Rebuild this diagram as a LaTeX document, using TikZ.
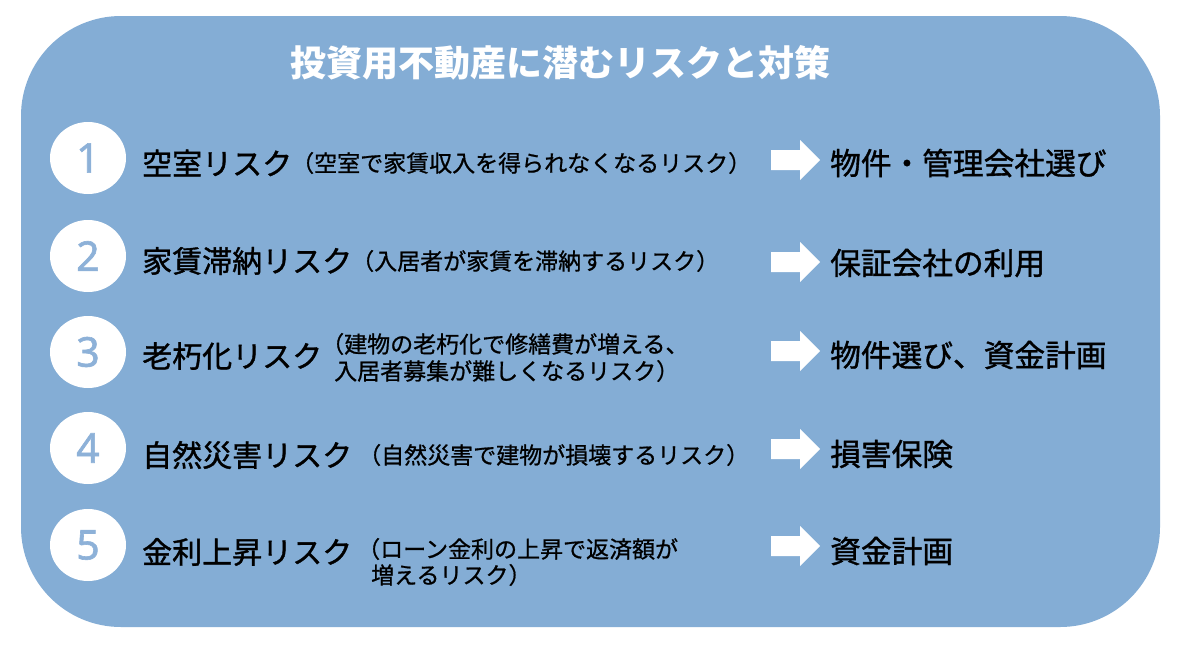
\documentclass[tikz,border=0pt]{standalone}
\usepackage{fontspec}
\usetikzlibrary{shapes.geometric}
\setmainfont{Noto Sans CJK JP}
\newfontfamily\numfont[FakeBold=1.5]{Noto Sans}
\newfontfamily\cjkmed[FakeBold=1.2]{Noto Sans CJK JP}
\newfontfamily\cjknote[FakeBold=0.8]{Noto Sans CJK JP}
\begin{document}
\begin{tikzpicture}[x=1pt,y=-1pt,
  panel/.style={fill=panelblue},
  numcirc/.style={ellipse, fill=white, minimum width=76pt, minimum height=72pt, inner sep=0pt,
    text=numblue, font=\numfont\fontsize{41}{41}\selectfont},
  risk/.style={anchor=west, inner sep=0pt, font=\cjkmed\fontsize{30}{30}\selectfont, text=black},
  note/.style={anchor=west, inner sep=0pt, font=\cjknote\fontsize{23}{23}\selectfont, text=black},
  measure/.style={anchor=west, inner sep=0pt, font=\cjkmed\fontsize{30.7}{30.7}\selectfont, text=black},
  blockarrow/.style={fill=white},
]
\definecolor{panelblue}{HTML}{84ADD5}
\definecolor{numblue}{HTML}{8DB1D8}
\useasboundingbox (0,0) rectangle (1177,646);
\fill[white] (0,0) rectangle (1177,646);
\fill[panel, rounded corners=100pt] (21,16) rectangle (1160,627);

\node[inner sep=0pt, text=white, font=\bfseries\fontsize{36}{36}\selectfont] (title) at (560,63) {投資用不動産に潜むリスクと対策};

% circles
\node[numcirc] (n1) at (88,158) {1};
\node[numcirc] (n2) at (88,256) {2};
\node[numcirc] (n3) at (88,352) {3};
\node[numcirc] (n4) at (88,448) {4};
\node[numcirc] (n5) at (88,545) {5};

% risks
\node[risk] (r1) at (142,163) {空室リスク};
\node[risk] (r2) at (142,261) {家賃滞納リスク};
\node[risk] (r3) at (142,356) {老朽化リスク};
\node[risk] (r4) at (142,455) {自然災害リスク};
\node[risk] (r5) at (142,552) {金利上昇リスク};

% notes
\node[note] (d1) at (291,163) {（空室で家賃収入を得られなくなるリスク）};
\node[note] (d2) at (351,261) {（入居者が家賃を滞納するリスク）};
\node[note] (d3a) at (321,344) {（建物の老朽化で修繕費が増える、};
\node[note] (d3b) at (334,371) {入居者募集が難しくなるリスク）};
\node[note] (d4) at (358,455) {（自然災害で建物が損壊するリスク）};
\node[note] (d5a) at (357,549) {（ローン金利の上昇で返済額が};
\node[note] (d5b) at (371,575) {増えるリスク）};

% arrows
\foreach \yy/\nm in {160/a1, 262/a2, 351/a3, 449/a4, 546/a5}{
  \fill[blockarrow, shift={(771,\yy)}] (0,-10) -- (29,-10) -- (29,-20) -- (49,0) -- (29,20) -- (29,10) -- (0,10) -- cycle;
  \coordinate (\nm) at (771,\yy);
}

% measures
\node[measure] (m1) at (830,163) {物件・管理会社選び};
\node[measure] (m2) at (830,263) {保証会社の利用};
\node[measure] (m3) at (830,355) {物件選び、資金計画};
\node[measure] (m4) at (830,454) {損害保険};
\node[measure] (m5) at (830,551) {資金計画};
\end{tikzpicture}
\end{document}
